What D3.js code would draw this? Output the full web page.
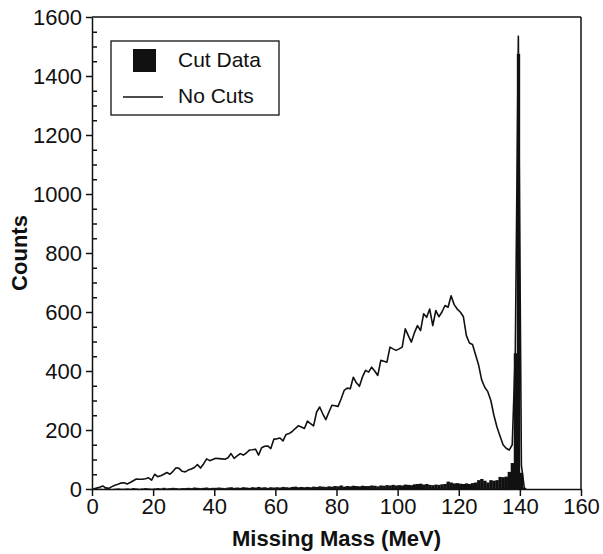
<!DOCTYPE html>
<html><head><meta charset="utf-8">
<script src="https://cdn.jsdelivr.net/npm/d3@7"></script>
<style>
body{margin:0;background:#fff;}
svg{display:block;font-family:"Liberation Sans",Arial,sans-serif;}
</style></head>
<body><svg id="c" width="603" height="554"></svg>
<script>
// Missing mass bins (MeV), 1 MeV wide, starting at bin 0
const binStart = d3.range(0, 142);
// "No Cuts" curve counts per bin
const noCuts = [
  0,3,6,10,4,2,8,13,16,20,
  21,17,22,28,34,33,33,35,38,30,
  50,42,45,50,56,50,60,72,70,60,
  58,64,68,73,83,71,85,102,96,100,
  104,103,102,101,106,120,104,112,120,115,
  122,132,133,135,115,140,145,146,137,169,
  170,173,163,185,188,195,205,214,210,205,
  230,222,214,261,278,255,235,260,284,282,
  280,305,334,342,340,379,360,348,380,402,
  396,413,400,385,436,433,430,481,475,470,
  475,481,543,520,498,530,554,537,594,582,
  610,554,605,584,600,622,616,655,625,610,
  600,585,520,495,490,455,420,370,345,330,
  300,250,210,180,150,138,132,150,460,1535,
  80,0
];
// "Cut Data" histogram counts per bin
const cutData = [
  2,0,1,0,2,1,0,1,2,1,
  1,2,1,3,2,1,2,3,2,1,
  2,3,2,4,2,3,4,3,2,3,
  3,4,3,5,4,3,4,5,3,4,
  4,5,4,3,5,6,4,5,4,6,
  5,4,6,5,7,5,6,4,6,5,
  6,5,7,6,5,7,8,6,7,6,
  7,6,8,7,9,8,7,9,8,10,
  9,12,8,10,9,11,10,9,11,10,
  10,12,11,9,12,11,13,12,14,12,
  13,12,15,14,13,16,17,18,15,17,
  14,13,15,14,16,17,25,22,19,20,
  18,17,19,17,20,22,30,34,28,22,
  30,28,30,41,40,42,58,88,460,1475,
  55,4
];
const xTicks = [0,20,40,60,80,100,120,140,160];
const yTicks = [0,200,400,600,800,1000,1200,1400,1600];
const legendLabels = ["Cut Data","No Cuts"];
const xTitle = "Missing Mass (MeV)";
const yTitle = "Counts";

const svg = d3.select("#c");
const L=92, R=581, T=17, B=489;
const x = d3.scaleLinear().domain([0,160]).range([L,R]);
const y = d3.scaleLinear().domain([0,1600]).range([B,T]);
const ink = "#111";

// bars
svg.append("g").selectAll("rect").data(binStart).join("rect")
  .attr("x", d=>x(d)).attr("width", d=>x(d+1)-x(d)+0.3)
  .attr("y", d=>y(cutData[d])).attr("height", d=>y(0)-y(cutData[d]))
  .attr("fill", ink);

// line
svg.append("path").datum(binStart)
  .attr("d", d3.line().x(d=>x(d+0.5)).y(d=>y(noCuts[d])))
  .attr("fill","none").attr("stroke",ink).attr("stroke-width",1.6).attr("stroke-linejoin","round");

// frame
svg.append("line").attr("x1",L).attr("x2",R).attr("y1",T).attr("y2",T).attr("stroke",ink).attr("stroke-width",1.5);
svg.append("line").attr("x1",R).attr("x2",R).attr("y1",T).attr("y2",B).attr("stroke",ink).attr("stroke-width",1.5);

// axes
const fs = 22;
const gx = svg.append("g").attr("transform",`translate(0,${B})`)
  .call(d3.axisBottom(x).tickValues(xTicks).tickSize(7).tickSizeOuter(0).tickPadding(2).tickFormat(d3.format("d")));
const gy = svg.append("g").attr("transform",`translate(${L},0)`)
  .call(d3.axisLeft(y).tickValues(yTicks).tickSize(6).tickSizeOuter(0).tickPadding(4).tickFormat(d3.format("d")));
const minor = d3.range(50,1600,50).filter(v=>v%200!==0);
svg.append("g").attr("transform",`translate(${L},0)`)
  .call(d3.axisRight(y).tickValues(minor).tickSize(5).tickFormat("").tickSizeOuter(0))
  .call(g=>g.select(".domain").remove());
svg.selectAll(".tick line, .domain").attr("stroke",ink).attr("stroke-width",1.5);
[gx,gy].forEach(g=>g.selectAll("text").attr("font-size",fs).attr("fill",ink)
  .attr("font-family","'Liberation Sans',Arial,sans-serif"));

// titles
svg.append("text").attr("x",(L+R)/2).attr("y",546).attr("text-anchor","middle")
  .attr("font-size",22).attr("font-weight","bold").attr("fill",ink).text(xTitle);
svg.append("text").attr("transform",`translate(27,${(T+B)/2}) rotate(-90)`).attr("text-anchor","middle")
  .attr("font-size",22).attr("font-weight","bold").attr("fill",ink).text(yTitle);

// legend
const lg = svg.append("g");
lg.append("rect").attr("x",111).attr("y",41).attr("width",168).attr("height",74)
  .attr("fill","#fff").attr("stroke",ink).attr("stroke-width",1.3);
lg.append("rect").attr("x",133).attr("y",49).attr("width",23).attr("height",23).attr("fill",ink);
lg.append("line").attr("x1",123).attr("x2",163).attr("y1",97).attr("y2",97).attr("stroke",ink).attr("stroke-width",1.3);
lg.selectAll("text.l").data(legendLabels).join("text").attr("class","l")
  .attr("x",178).attr("y",(d,i)=>67+i*36).attr("font-size",21).attr("fill",ink).text(d=>d);
</script></body></html>
